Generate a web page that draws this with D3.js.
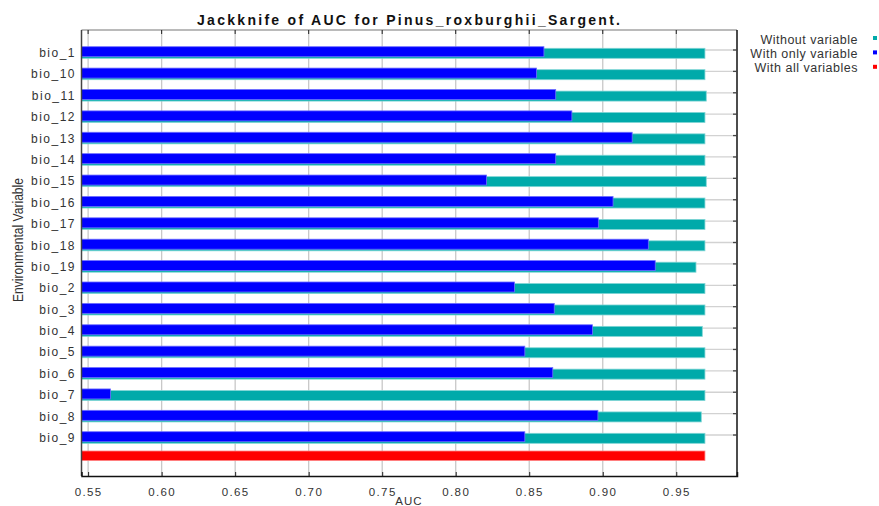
<!DOCTYPE html>
<html>
<head>
<meta charset="utf-8">
<script src="https://cdn.jsdelivr.net/npm/d3@7"></script>
<style>
	body { margin: 0; background: #fff; }
	svg { display: block; font-family: 'Liberation Sans', Arial, sans-serif; }
</style>
</head>
<body>
<svg id="chart" width="879" height="506"></svg>
<script>
// Jackknife results
const variables = ['bio_1', 'bio_10', 'bio_11', 'bio_12', 'bio_13', 'bio_14', 'bio_15', 'bio_16', 'bio_17',
	'bio_18', 'bio_19', 'bio_2', 'bio_3', 'bio_4', 'bio_5', 'bio_6', 'bio_7', 'bio_8', 'bio_9'];
const withoutVariable = [0.9695, 0.9695, 0.9704, 0.9695, 0.9695, 0.9695, 0.9704, 0.9695, 0.9695,
	0.9695, 0.9634, 0.9695, 0.9695, 0.9677, 0.9695, 0.9695, 0.9695, 0.9670, 0.9695];
const withOnlyVariable = [0.860, 0.855, 0.868, 0.879, 0.920, 0.868, 0.821, 0.907, 0.897,
	0.931, 0.9357, 0.840, 0.867, 0.893, 0.847, 0.866, 0.5652, 0.8967, 0.847];
const withAllVariables = 0.9695;
const xTicks = [0.55, 0.60, 0.65, 0.70, 0.75, 0.80, 0.85, 0.90, 0.95];
const legendItems = ['Without variable', 'With only variable', 'With all variables'];
const colors = ['#00aaaa', '#0000ff', '#ff0000'];

const svg = d3.select('#chart');
const plot = { left: 81.5, right: 737, top: 30, bottom: 476 };

const x = d3.scaleLinear().domain([0.5455, 0.9913]).range([plot.left, plot.right]);
const rows = variables.concat(['all']);
const y = d3.scalePoint().domain(rows).range([50, 50 + 19 * 21.39]);

const textColor = '#333';

// Grid: vertical lines at ticks, horizontal lines at each variable
const gGrid = svg.append('g');
gGrid.selectAll('line.v').data(xTicks).enter().append('line')
	.attr('x1', d => x(d)).attr('x2', d => x(d))
	.attr('y1', plot.top).attr('y2', plot.bottom)
	.attr('stroke', '#c8c8c8').attr('stroke-width', 1.3);
gGrid.selectAll('line.h').data(variables).enter().append('line')
	.attr('x1', plot.left).attr('x2', plot.right)
	.attr('y1', d => y(d)).attr('y2', d => y(d))
	.attr('stroke', '#d2d2d2').attr('stroke-width', 1.3);

// Bars
const gBars = svg.append('g');
gBars.selectAll('rect.without').data(variables).enter().append('rect')
	.attr('x', x.range()[0])
	.attr('y', d => y(d) - 1.7)
	.attr('width', (d, i) => x(withoutVariable[i]) - plot.left)
	.attr('height', 10)
	.attr('fill', colors[0])
	.attr('stroke', '#7fd5d5').attr('stroke-width', 0.8);
gBars.selectAll('rect.only').data(variables).enter().append('rect')
	.attr('x', x.range()[0])
	.attr('y', d => y(d) - 3.3)
	.attr('width', (d, i) => x(withOnlyVariable[i]) - plot.left)
	.attr('height', 10)
	.attr('fill', colors[1])
	.attr('stroke', '#6f6fff').attr('stroke-width', 0.8);
gBars.append('rect')
	.attr('x', plot.left)
	.attr('y', y('all') - 5.4)
	.attr('width', x(withAllVariables) - plot.left)
	.attr('height', 9.5)
	.attr('fill', colors[2])
	.attr('stroke', '#ff8080').attr('stroke-width', 0.8);

// Frame
svg.append('line').attr('x1', plot.left).attr('x2', plot.right).attr('y1', plot.top).attr('y2', plot.top)
	.attr('stroke', '#777').attr('stroke-width', 1.2);
svg.append('line').attr('x1', plot.left).attr('x2', plot.left).attr('y1', plot.top).attr('y2', plot.bottom)
	.attr('stroke', '#444').attr('stroke-width', 1.5);
svg.append('line').attr('x1', plot.right).attr('x2', plot.right).attr('y1', plot.top).attr('y2', plot.bottom)
	.attr('stroke', '#111').attr('stroke-width', 1.5);

// Bottom axis
const xAxis = d3.axisBottom(x).tickValues(xTicks).tickFormat(d3.format('.2f')).tickSize(-4).tickPadding(12);
const gx = svg.append('g').attr('transform', `translate(0,${plot.bottom})`).call(xAxis);
gx.select('.domain').attr('stroke', '#111').attr('stroke-width', 1.5);
gx.selectAll('.tick line').attr('stroke', '#222');
gx.selectAll('.tick text').attr('fill', textColor)
	.style('font-family', "'Liberation Sans', Arial, sans-serif")
	.style('font-size', '11.5px').style('letter-spacing', '1.4px');

// Top ticks
svg.append('g').selectAll('line').data(xTicks).enter().append('line')
	.attr('x1', d => x(d)).attr('x2', d => x(d))
	.attr('y1', plot.top).attr('y2', plot.top + 4)
	.attr('stroke', '#222').attr('stroke-width', 1);

// Right ticks
svg.append('g').selectAll('line').data(variables).enter().append('line')
	.attr('x1', plot.right - 4).attr('x2', plot.right)
	.attr('y1', d => y(d)).attr('y2', d => y(d))
	.attr('stroke', '#444').attr('stroke-width', 1.3);

// Variable labels
svg.append('g').selectAll('text').data(variables).enter().append('text')
	.attr('x', 76)
	.attr('y', d => y(d) + 7)
	.attr('text-anchor', 'end')
	.attr('fill', textColor)
	.style('font-size', '12px')
	.style('letter-spacing', '1.5px')
	.text(d => d);

// Title
svg.append('text')
	.attr('x', 408.5).attr('y', 25)
	.attr('text-anchor', 'middle')
	.attr('textLength', 423).attr('lengthAdjust', 'spacing')
	.style('font-size', '14px').style('font-weight', 'bold')
	.attr('fill', '#111')
	.text('Jackknife of AUC for Pinus_roxburghii_Sargent.');

// Axis titles
svg.append('text')
	.attr('x', 409).attr('y', 505)
	.attr('text-anchor', 'middle')
	.attr('fill', textColor)
	.style('font-size', '11.5px').style('letter-spacing', '1px')
	.text('AUC');
svg.append('text')
	.attr('transform', 'translate(23,240) rotate(-90)')
	.attr('text-anchor', 'middle')
	.attr('fill', textColor)
	.attr('textLength', 124).attr('lengthAdjust', 'spacingAndGlyphs')
	.style('font-family', "'Liberation Sans Narrow', 'Liberation Sans', Arial, sans-serif")
	.style('font-size', '15px')
	.text('Environmental Variable');

// Legend
const gLegend = svg.append('g');
legendItems.forEach((label, i) => {
	const ly = 39 + i * 14.4;
	gLegend.append('text')
		.attr('x', 858).attr('y', ly + 4.5)
		.attr('text-anchor', 'end')
		.attr('fill', textColor)
		.style('font-size', '12.5px').style('letter-spacing', '0.5px')
		.text(label);
	gLegend.append('rect')
		.attr('x', 873).attr('y', ly - 3)
		.attr('width', 4).attr('height', 4)
		.attr('fill', colors[i]);
});
</script>
</body>
</html>
